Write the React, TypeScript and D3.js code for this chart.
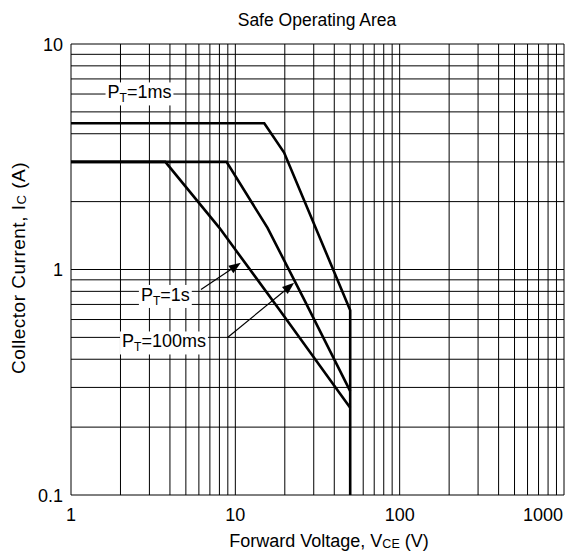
import React, { useEffect, useRef } from 'react';
import * as d3 from 'd3';

const xTickValues = [1, 10, 100, 1000];
const xTickLabels = ['1', '10', '100', '1000'];
const yTickValues = [0.1, 1, 10];
const yTickLabels = ['0.1', '1', '10'];

// SOA boundaries (VCE in V, IC in A)
const vce1ms = [1, 15, 19.8, 50, 50];
const ic1ms = [4.45, 4.45, 3.3, 0.66, 0.1];
const vce100ms = [1, 8.84, 15.7, 26.2, 50];
const ic100ms = [3, 3, 1.53, 0.737, 0.289];
const vce1s = [1, 3.75, 8, 18.5, 50];
const ic1s = [3, 3, 1.53, 0.665, 0.244];

const labelNames = ['1ms', '1s', '100ms'];
const labelVce = [2.61, 3.75, 3.68];
const labelIc = [6.13, 0.775, 0.482];
const arrowFrom = [[6.18, 0.816], [8.97, 0.499]];
const arrowTo = [[10.8, 1.07], [22.8, 0.873]];

const W = 565;
const H = 557;
const FONT = '"Liberation Sans", Arial, Helvetica, sans-serif';

const App: React.FC = () => {
  const svgRef = useRef<SVGSVGElement>(null);

  useEffect(() => {
    if (!svgRef.current) return;
    const svg = d3.select(svgRef.current);
    svg.selectAll('*').remove();

    const x = d3.scaleLog().domain([1, 1000]).range([71, 564]);
    const y = d3.scaleLog().domain([0.1, 10]).range([495, 44]);

    svg.append('rect').attr('width', W).attr('height', H).attr('fill', '#fff');

    // grid
    const grid = svg.append('g').attr('stroke', '#000').attr('stroke-width', 1);
    grid.selectAll('line.v')
      .data(x.ticks())
      .join('line')
      .attr('class', 'v')
      .attr('x1', d => x(d)).attr('x2', d => x(d))
      .attr('y1', y(10)).attr('y2', y(0.1));
    grid.selectAll('line.h')
      .data(y.ticks())
      .join('line')
      .attr('class', 'h')
      .attr('x1', x(1)).attr('x2', x(1000))
      .attr('y1', d => y(d)).attr('y2', d => y(d));

    // tick labels
    const ticks = svg.append('g').attr('font-family', FONT).attr('font-size', 18).attr('fill', '#000');
    ticks.selectAll('text.x')
      .data(xTickValues)
      .join('text')
      .attr('class', 'x')
      .attr('x', (d, i) => (i === xTickValues.length - 1 ? x(d) - 1 : x(d)))
      .attr('y', 521)
      .attr('text-anchor', (d, i) => (i === xTickValues.length - 1 ? 'end' : 'middle'))
      .text((d, i) => xTickLabels[i]);
    ticks.selectAll('text.y')
      .data(yTickValues)
      .join('text')
      .attr('class', 'y')
      .attr('x', 63)
      .attr('y', d => y(d) + 6.5)
      .attr('text-anchor', 'end')
      .text((d, i) => yTickLabels[i]);

    // curves
    const line = d3.line<[number, number]>()
      .x(d => x(d[0]))
      .y(d => y(d[1]));
    const series = [
      d3.zip(vce1ms, ic1ms),
      d3.zip(vce100ms, ic100ms),
      d3.zip(vce1s, ic1s),
    ] as [number, number][][];
    svg.append('g')
      .selectAll('path')
      .data(series)
      .join('path')
      .attr('d', d => line(d))
      .attr('fill', 'none')
      .attr('stroke', '#000')
      .attr('stroke-width', 2.6)
      .attr('stroke-linejoin', 'miter');

    // arrows
    const arrows = svg.append('g');
    arrowFrom.forEach((f, i) => {
      const t = arrowTo[i];
      const x0 = x(f[0]), y0 = y(f[1]), x1 = x(t[0]), y1 = y(t[1]);
      const ang = Math.atan2(y1 - y0, x1 - x0);
      const len = 12, hw = 4.5;
      const bx = x1 - len * Math.cos(ang), by = y1 - len * Math.sin(ang);
      arrows.append('line')
        .attr('x1', x0).attr('y1', y0).attr('x2', bx).attr('y2', by)
        .attr('stroke', '#000').attr('stroke-width', 1.2);
      const px = -Math.sin(ang) * hw, py = Math.cos(ang) * hw;
      arrows.append('path')
        .attr('d', `M${x1},${y1}L${bx + px},${by + py}L${bx - px},${by - py}Z`)
        .attr('fill', '#000');
    });

    // PT labels with white backgrounds
    const labels = svg.append('g').attr('font-family', FONT).attr('font-size', 18);
    labelNames.forEach((name, i) => {
      const g = labels.append('g');
      const rect = g.append('rect').attr('fill', '#fff');
      const t = g.append('text')
        .attr('x', x(labelVce[i]))
        .attr('y', y(labelIc[i]) + 6.5)
        .attr('text-anchor', 'middle');
      t.append('tspan').text('P');
      t.append('tspan').attr('font-size', 12).attr('dy', 4).text('T');
      t.append('tspan').attr('dy', -4).text('=' + name);
      const bb = (t.node() as SVGTextElement).getBBox();
      rect.attr('x', bb.x - 2).attr('y', bb.y).attr('width', bb.width + 4).attr('height', bb.height);
    });

    // titles
    svg.append('text')
      .attr('x', 317).attr('y', 26)
      .attr('text-anchor', 'middle')
      .attr('font-family', FONT).attr('font-size', 17.5)
      .text('Safe Operating Area');

    const xt = svg.append('text')
      .attr('x', 329).attr('y', 547)
      .attr('text-anchor', 'middle')
      .attr('font-family', FONT).attr('font-size', 18);
    xt.append('tspan').text('Forward Voltage, V');
    xt.append('tspan').attr('font-size', 12.5).attr('dy', 1).text('CE');
    xt.append('tspan').attr('dy', -1).text(' (V)');

    const yt = svg.append('text')
      .attr('transform', `translate(25,268) rotate(-90)`)
      .attr('text-anchor', 'middle')
      .attr('font-family', FONT).attr('font-size', 19)
      .attr('letter-spacing', 0.5);
    yt.append('tspan').text('Collector Current, I');
    yt.append('tspan').attr('font-size', 13).attr('dy', 1).text('C');
    yt.append('tspan').attr('dy', -1).text(' (A)');
  }, []);

  return (
    <svg
      ref={svgRef}
      width={W}
      height={H}
      style={{ position: 'absolute', left: 0, top: 0 }}
    />
  );
};

export default App;
